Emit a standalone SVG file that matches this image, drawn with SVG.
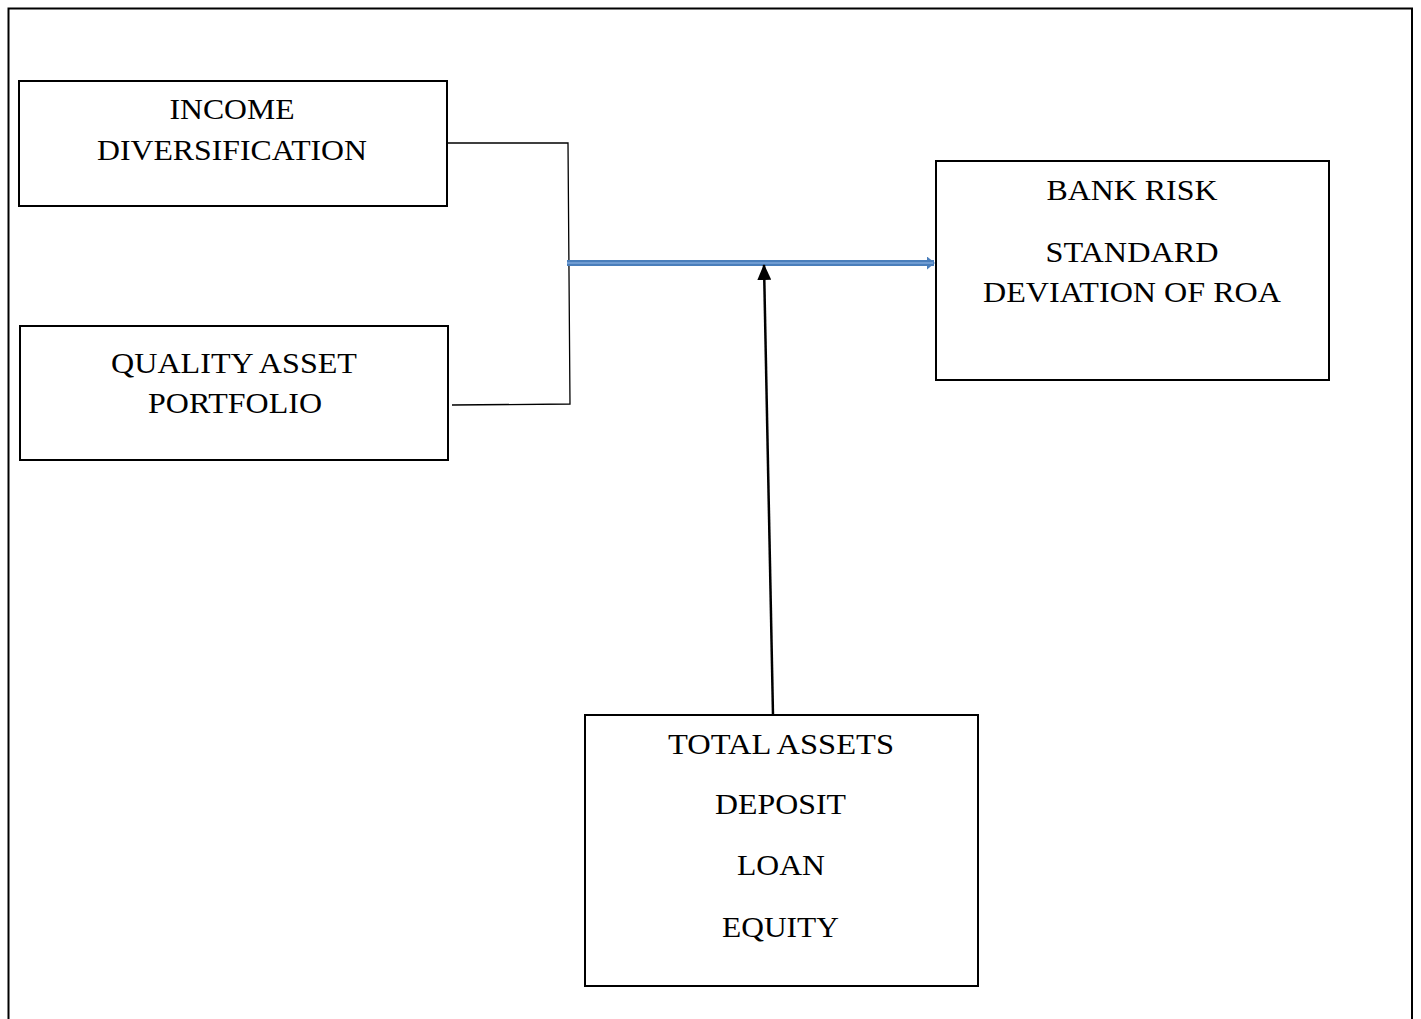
<svg xmlns="http://www.w3.org/2000/svg" width="1421" height="1019" viewBox="0 0 1421 1019">
<defs>
<style>
.box{fill:#fff;stroke:#000;stroke-width:2}
.t{font-family:"Liberation Serif","Times New Roman",serif;font-size:29px;fill:#000;text-anchor:middle}
.thin{fill:none;stroke:#000;stroke-width:1.3}
</style>
<marker id="ah" markerWidth="16" markerHeight="14" refX="15" refY="7" orient="auto" markerUnits="userSpaceOnUse" viewBox="0 0 16 14">
<path d="M0,0 L16,7 L0,14 z" fill="#000"/>
</marker>
<marker id="bh" markerWidth="8" markerHeight="13" refX="7" refY="6.5" orient="auto" markerUnits="userSpaceOnUse" viewBox="0 0 8 13">
<path d="M0,0 L8,6.5 L0,13 z" fill="#4a7ebb"/>
</marker>
</defs>
<rect width="1421" height="1019" fill="#fff"/>
<path d="M8.5,1019 V8.5 H1412 V1019" fill="none" stroke="#000" stroke-width="2"/>
<g id="node-income">
<rect class="box" x="19" y="81" width="428" height="125"/>
<text class="t" x="232" y="119" textLength="125" lengthAdjust="spacingAndGlyphs">INCOME</text>
<text class="t" x="232" y="160" textLength="270" lengthAdjust="spacingAndGlyphs">DIVERSIFICATION</text>
</g>
<g id="node-quality">
<rect class="box" x="20" y="326" width="428" height="134"/>
<text class="t" x="234" y="373" textLength="246" lengthAdjust="spacingAndGlyphs">QUALITY ASSET</text>
<text class="t" x="235" y="413" textLength="174" lengthAdjust="spacingAndGlyphs">PORTFOLIO</text>
</g>
<g id="node-bankrisk">
<rect class="box" x="936" y="161" width="393" height="219"/>
<text class="t" x="1132" y="200" textLength="171" lengthAdjust="spacingAndGlyphs">BANK RISK</text>
<text class="t" x="1132" y="262" textLength="173" lengthAdjust="spacingAndGlyphs">STANDARD</text>
<text class="t" x="1132" y="302" textLength="298" lengthAdjust="spacingAndGlyphs">DEVIATION OF ROA</text>
</g>
<g id="node-total">
<rect class="box" x="585" y="715" width="393" height="271"/>
<text class="t" x="781" y="754" textLength="226" lengthAdjust="spacingAndGlyphs">TOTAL ASSETS</text>
<text class="t" x="780.5" y="814" textLength="131" lengthAdjust="spacingAndGlyphs">DEPOSIT</text>
<text class="t" x="781" y="875" textLength="88" lengthAdjust="spacingAndGlyphs">LOAN</text>
<text class="t" x="780.5" y="937" textLength="117" lengthAdjust="spacingAndGlyphs">EQUITY</text>
</g>
<g id="connectors">
<path class="thin" d="M447,143 H568 L570,404 L452,405"/>
<line x1="567" y1="263" x2="934" y2="263" stroke="#4a7ebb" stroke-width="6" marker-end="url(#bh)"/>
<line x1="567" y1="263" x2="933" y2="263" stroke="#7ea7da" stroke-width="1.5"/>
<line x1="773" y1="715" x2="764" y2="265" stroke="#000" stroke-width="2.5" marker-end="url(#ah)"/>
</g>
</svg>
